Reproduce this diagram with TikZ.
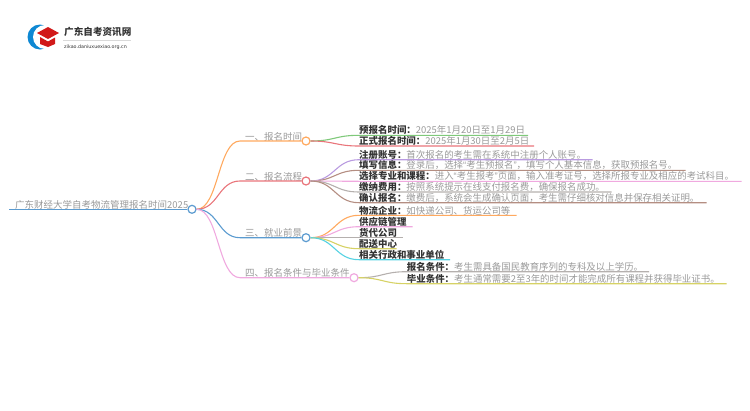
\documentclass[tikz,border=0pt]{standalone}
\usepackage{fontspec}
\setmainfont{Noto Sans CJK SC}
\newfontfamily\urlfont{DejaVu Sans}
\newfontfamily\quotefont{Liberation Sans}
\definecolor{lineorange}{HTML}{FFA95F}
\definecolor{linered}{HTML}{E9757B}
\definecolor{lineblue}{HTML}{5B9BD0}
\definecolor{linepink}{HTML}{F0A9DF}
\definecolor{linegreen}{HTML}{7FC97A}
\definecolor{linepurple}{HTML}{B99BE0}
\definecolor{linebrown}{HTML}{B48E82}
\definecolor{linegray}{HTML}{B5B0AE}
\definecolor{lineyellow}{HTML}{D6D265}
\definecolor{linecyan}{HTML}{55D2E2}
\definecolor{textgray}{HTML}{999999}
\definecolor{textdark}{HTML}{333333}
\newcommand{\leaflabel}[2]{\textcolor{textdark}{\textbf{#1}}#2}
\newcommand{\openq}{{\quotefont “}}
\newcommand{\closeq}{{\quotefont ”}}
\tikzset{
  hub/.style={circle,draw=#1,fill=white,line width=1.2pt,minimum size=8pt},
  branchtext/.style={anchor=west,text=textgray,font=\fontsize{9.5}{10}\selectfont},
  leaftext/.style={anchor=west,text=textgray,font=\fontsize{9.45}{10}\selectfont},
  plaintext/.style={leaftext,text=textdark,font=\fontsize{9.45}{10}\selectfont\bfseries},
  wire/.style={line width=1.1pt,draw=#1}
}
\begin{document}
\begin{tikzpicture}[x=1pt,y=1pt]
            \tikzstyle{every node}+=[inner sep=0pt]
            \useasboundingbox (0,0) rectangle (750,-410);
            % logo
            \fill [cyan!70!blue] (40,-37) circle (12.5);
            \fill [white] (45,-37) circle (12);
            \fill [red!80!black!90] (37,-33) -- (48,-27) -- (59,-33) -- (48,-39) -- cycle;
            \fill [red!80!black!90] (40,-37) -- (48,-41.5) -- (55,-37.5) -- (55,-44) -- (48,-47) -- (40,-44) -- cycle;
            \node (sitename) [anchor=west,text=textdark,font=\fontsize{9.6}{10}\selectfont\bfseries] at (64,-31.5) {广东自考资讯网};
            \draw [black!15,line width=0.5pt] (63,-40) -- (131,-40);
            \node (siteurl) [anchor=west,text=textdark,font=\urlfont\fontsize{4.8}{5}\selectfont] at (64,-46.7) {zikao.daniuxuexiao.org.cn};
            % hubs
            \node (root) [hub=lineblue] at (192,-209.3) {};
            \node (time) [hub=lineorange] at (306,-141) {};
            \node (flow) [hub=linered] at (306,-181) {};
            \node (jobs) [hub=lineblue] at (306,-237.7) {};
            \node (cond) [hub=linepink] at (354,-277.7) {};
            % texts
            \node (roottext) [branchtext] at (15,-204.8) {广东财经大学自考物流管理报名时间2025};
            \node (timetext) [branchtext] at (245,-136.5) {一、报名时间};
            \node (flowtext) [branchtext] at (245,-176.5) {二、报名流程};
            \node (jobstext) [branchtext] at (245,-233.2) {三、就业前景};
            \node (condtext) [branchtext] at (245,-273.2) {四、报名条件与毕业条件};
            \node (pre) [leaftext] at (359,-130.4) {\leaflabel{预报名时间：}{2025年1月20日至1月29日}};
            \node (formal) [leaftext] at (359,-141.1) {\leaflabel{正式报名时间：}{2025年1月30日至2月5日}};
            \node (account) [leaftext] at (359,-154.8) {\leaflabel{注册账号：}{首次报名的考生需在系统中注册个人账号。}};
            \node (info) [leaftext] at (359,-165.4) {\leaflabel{填写信息：}{登录后，选择\openq 考生预报名\closeq ，填写个人基本信息，获取预报名号。}};
            \node (major) [leaftext] at (359,-176.4) {\leaflabel{选择专业和课程：}{进入\openq 考生报考\closeq 页面，输入准考证号，选择所报专业及相应的考试科目。}};
            \node (fee) [leaftext] at (359,-187.1) {\leaflabel{缴纳费用：}{按照系统提示在线支付报名费，确保报名成功。}};
            \node (confirm) [leaftext] at (359,-197.8) {\leaflabel{确认报名：}{缴费后，系统会生成确认页面，考生需仔细核对信息并保存相关证明。}};
            \node (firm) [leaftext] at (359,-210.4) {\leaflabel{物流企业：}{如快递公司、货运公司等}};
            \node (chain) [plaintext] at (359,-221.8) {供应链管理};
            \node (agent) [plaintext] at (359,-232.8) {货代公司};
            \node (depot) [plaintext] at (359,-243.8) {配送中心};
            \node (admin) [plaintext] at (359,-254.8) {相关行政和事业单位};
            \node (apply) [leaftext] at (406.7,-266.8) {\leaflabel{报名条件：}{考生需具备国民教育序列的专科及以上学历。}};
            \node (grad) [leaftext] at (406.7,-278.8) {\leaflabel{毕业条件：}{考生通常需要2至3年的时间才能完成所有课程并获得毕业证书。}};
            % line ends
            \coordinate (rootstart) at (9,-209.3);
            \coordinate (timebend) at (240,-141);
            \coordinate (flowbend) at (240,-181);
            \coordinate (jobsbend) at (240,-237.7);
            \coordinate (condbend) at (240,-277.7);
            \coordinate (pres) at (359,-135.3);
            \coordinate (pree) at (528,-135.3);
            \coordinate (formals) at (359,-146);
            \coordinate (formale) at (534,-146);
            \coordinate (accounts) at (359,-159.7);
            \coordinate (accounte) at (592.7,-159.7);
            \coordinate (infos) at (359,-170.3);
            \coordinate (infoe) at (685.7,-170.3);
            \coordinate (majors) at (359,-181.3);
            \coordinate (majore) at (741.7,-181.3);
            \coordinate (fees) at (359,-192);
            \coordinate (feee) at (611.7,-192);
            \coordinate (confirms) at (359,-202.7);
            \coordinate (confirme) at (706.7,-202.7);
            \coordinate (firms) at (359,-215.3);
            \coordinate (firme) at (516.7,-215.3);
            \coordinate (chains) at (359,-226.7);
            \coordinate (chaine) at (412.7,-226.7);
            \coordinate (agents) at (359,-237.7);
            \coordinate (agente) at (402.7,-237.7);
            \coordinate (depots) at (359,-248.7);
            \coordinate (depote) at (396.7,-248.7);
            \coordinate (admins) at (359,-259.7);
            \coordinate (admine) at (450,-259.7);
            \coordinate (applys) at (406.7,-271.7);
            \coordinate (applye) at (649,-271.7);
            \coordinate (grads) at (406.7,-283.7);
            \coordinate (grade) at (726.7,-283.7);
            % root and branches
            \draw [wire=lineblue] (rootstart) -- (root.west);
            \draw [wire=lineorange] (root.east) .. controls +(22,0) and +(-22,0) .. (timebend) -- (time.west);
            \draw [wire=linered] (root.east) .. controls +(22,0) and +(-22,0) .. (flowbend) -- (flow.west);
            \draw [wire=lineblue] (root.east) .. controls +(22,0) and +(-22,0) .. (jobsbend) -- (jobs.west);
            \draw [wire=linepink] (root.east) .. controls +(22,0) and +(-22,0) .. (condbend) -- (cond.west);
            % leaves
            \draw [wire=linegreen] (time.east) .. controls +(24,0) and +(-24,0) .. (pres) -- (pree);
            \draw [wire=linered] (time.east) .. controls +(24,0) and +(-24,0) .. (formals) -- (formale);
            \draw [wire=linepurple] (flow.east) .. controls +(24,0) and +(-24,0) .. (accounts) -- (accounte);
            \draw [wire=linebrown] (flow.east) .. controls +(24,0) and +(-24,0) .. (infos) -- (infoe);
            \draw [wire=linepink] (flow.east) .. controls +(24,0) and +(-24,0) .. (majors) -- (majore);
            \draw [wire=linegray] (flow.east) .. controls +(24,0) and +(-24,0) .. (fees) -- (feee);
            \draw [wire=linebrown] (flow.east) .. controls +(24,0) and +(-24,0) .. (confirms) -- (confirme);
            \draw [wire=lineorange] (jobs.east) .. controls +(24,0) and +(-24,0) .. (firms) -- (firme);
            \draw [wire=linepink] (jobs.east) .. controls +(24,0) and +(-24,0) .. (chains) -- (chaine);
            \draw [wire=linegray] (jobs.east) .. controls +(24,0) and +(-24,0) .. (agents) -- (agente);
            \draw [wire=lineyellow] (jobs.east) .. controls +(24,0) and +(-24,0) .. (depots) -- (depote);
            \draw [wire=linecyan] (jobs.east) .. controls +(24,0) and +(-24,0) .. (admins) -- (admine);
            \draw [wire=linegray] (cond.east) .. controls +(24,0) and +(-24,0) .. (applys) -- (applye);
            \draw [wire=lineyellow] (cond.east) .. controls +(24,0) and +(-24,0) .. (grads) -- (grade);
\end{tikzpicture}
\end{document}
